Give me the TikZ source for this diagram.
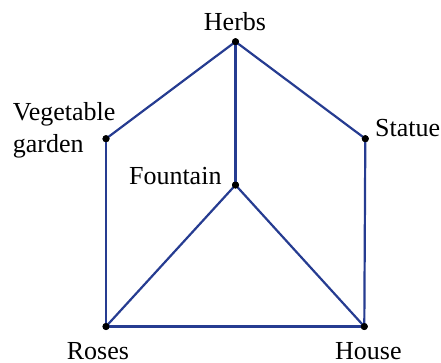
\documentclass[tikz,border=0pt]{standalone}
\usepackage{fontspec}
\setmainfont{Liberation Serif}
\newfontfamily\labelfont{Liberation Serif}
\begin{document}
\begin{tikzpicture}[x=1pt,y=-1pt,
  edge/.style={draw={rgb,255:red,38;green,60;blue,145},line width=2.2pt},
  spot/.style={circle,fill=black,inner sep=0pt,minimum size=7pt},
  tag/.style={inner sep=0pt,font=\labelfont\fontsize{26}{32}\selectfont}]
\useasboundingbox (0,0) rectangle (441,362);
% vertices
\node[spot] (herbs) at (235.5,41.7) {};
\node[spot] (veg) at (106,138.7) {};
\node[spot] (statue) at (365.3,138.7) {};
\node[spot] (fountain) at (235.5,185) {};
\node[spot] (roses) at (106,326.5) {};
\node[spot] (house) at (364.3,326.5) {};
% edges
\draw[edge] (herbs.center) -- (veg.center);
\draw[edge] (herbs.center) -- (statue.center);
\draw[edge] (herbs.center) -- (fountain.center);
\draw[edge] (veg.center) -- (roses.center);
\draw[edge] (statue.center) -- (house.center);
\draw[edge] (fountain.center) -- (roses.center);
\draw[edge] (fountain.center) -- (house.center);
\draw[edge] (roses.center) -- (house.center);
% dots on top of the edges
\foreach \v in {herbs,veg,statue,fountain,roses,house}
  \fill (\v.center) circle (3.5pt);
% labels
\node[tag,anchor=base] (lherbs) at (235,30) {Herbs};
\node[tag,anchor=base west,align=left] (lveg) at (12.7,152.7) {Vegetable\\garden};
\node[tag,anchor=base west] (lstatue) at (375,136) {Statue};
\node[tag,anchor=base east] (lfountain) at (221.7,184) {Fountain};
\node[tag,anchor=base west] (lroses) at (66.7,359) {Roses};
\node[tag,anchor=base west] (lhouse) at (335,359) {House};
\end{tikzpicture}
\end{document}
